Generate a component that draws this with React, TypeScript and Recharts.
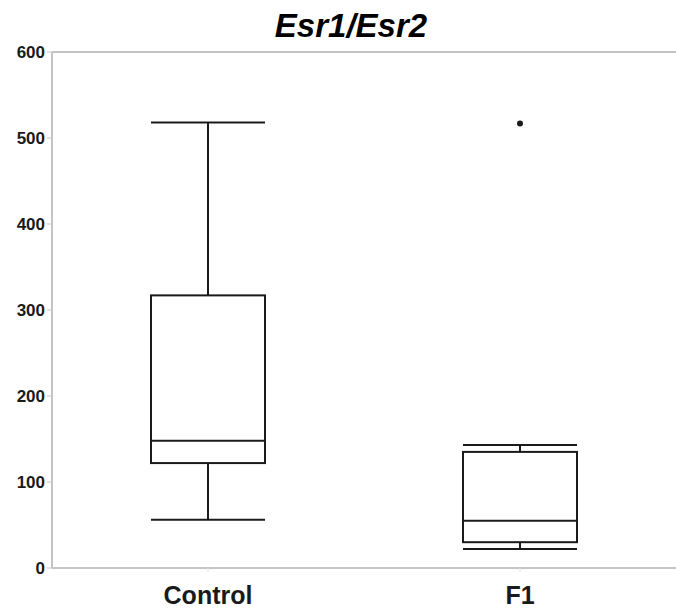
import {
  ComposedChart,
  Bar,
  Scatter,
  XAxis,
  YAxis,
  ReferenceLine,
} from "recharts";

const groups = ["Control", "F1"];
const minVals = [56, 22];
const q1Vals = [122, 30];
const medianVals = [148, 55];
const q3Vals = [317, 135];
const maxVals = [518, 143];
const outlierVals: (number | null)[] = [null, 517];
const yTicks = [0, 100, 200, 300, 400, 500, 600];

const data = groups.map((name, i) => ({
  name,
  min: minVals[i],
  q1: q1Vals[i],
  median: medianVals[i],
  q3: q3Vals[i],
  max: maxVals[i],
  range: [minVals[i], maxVals[i]],
  outlier: outlierVals[i],
}));

const FONT = "Arial, 'Liberation Sans', sans-serif";
const INK = "#1a1a1a";
const AXIS = "#c4c4c4";

// draws a box plot inside the band given by a [min, max] range bar
const BoxShape = (props: any) => {
  const { x, y, width, height, payload } = props;
  const top = Math.min(y, y + height);
  const h = Math.abs(height);
  const { min, q1, median, q3, max } = payload;
  const toY = (v: number) => top + (h * (max - v)) / (max - min);
  const cx = x + width / 2;
  return (
    <g stroke={INK} strokeWidth={2} fill="none">
      <line x1={cx} x2={cx} y1={toY(max)} y2={toY(q3)} />
      <line x1={cx} x2={cx} y1={toY(q1)} y2={toY(min)} />
      <line x1={x} x2={x + width} y1={toY(max)} y2={toY(max)} />
      <line x1={x} x2={x + width} y1={toY(min)} y2={toY(min)} />
      <rect x={x} y={toY(q3)} width={width} height={toY(q1) - toY(q3)} fill="#fff" />
      <line x1={x} x2={x + width} y1={toY(median)} y2={toY(median)} />
    </g>
  );
};

const OutlierDot = (props: any) => {
  const { cx, cy, payload } = props;
  if (payload == null || payload.outlier == null) return <g />;
  return <circle cx={cx} cy={cy} r={3} fill={INK} />;
};

export default function App() {
  return (
    <div
      style={{
        position: "absolute",
        left: 0,
        top: 0,
        width: 676,
        height: 609,
        background: "#fff",
        fontFamily: FONT,
      }}
    >
      <div
        style={{
          position: "absolute",
          left: 0,
          width: 702,
          top: 7,
          textAlign: "center",
          fontSize: 33,
          fontWeight: "bold",
          fontStyle: "italic",
          color: "#000",
        }}
      >
        Esr1/Esr2
      </div>
      <ComposedChart
        width={676}
        height={609}
        data={data}
        margin={{ top: 52, right: 0, bottom: 0, left: 0 }}
      >
        <XAxis
          dataKey="name"
          type="category"
          height={41}
          axisLine={{ stroke: AXIS, strokeWidth: 2 }}
          tickLine={{ stroke: "#e0e0e0" }}
          tickSize={4}
          tick={{ fontSize: 25, fontWeight: "bold", fill: INK, fontFamily: FONT }}
          dy={12}
        />
        <YAxis
          type="number"
          domain={[0, 600]}
          ticks={yTicks}
          width={52}
          axisLine={{ stroke: AXIS, strokeWidth: 2 }}
          tickLine={{ stroke: AXIS }}
          tickSize={5}
          tick={{ fontSize: 17, fontWeight: "bold", fill: INK, fontFamily: FONT }}
        />
        <ReferenceLine y={600} stroke={AXIS} strokeWidth={2} />
        <Bar
          dataKey="range"
          barSize={114}
          shape={<BoxShape />}
          isAnimationActive={false}
        />
        <Scatter
          dataKey="outlier"
          shape={<OutlierDot />}
          isAnimationActive={false}
        />
      </ComposedChart>
    </div>
  );
}
